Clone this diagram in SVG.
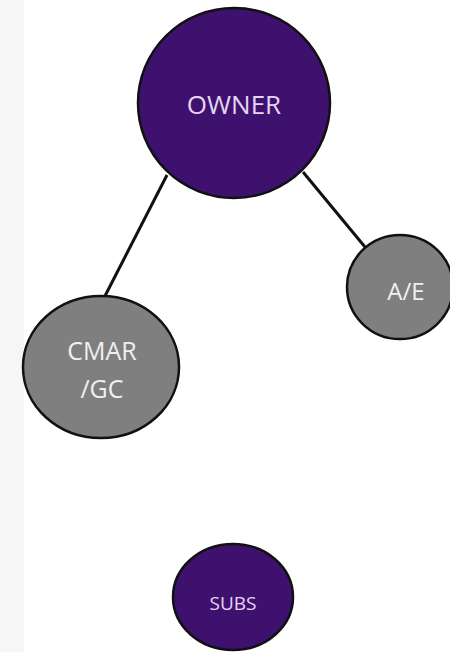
<svg xmlns="http://www.w3.org/2000/svg" width="450" height="652" viewBox="0 0 450 652">
<style>
.node{stroke:#111;stroke-width:2.5}
.purple{fill:#3f116f}
.gray{fill:#7f7f7f}
.lbl{font-family:"Open Sans","Liberation Sans",sans-serif;text-anchor:middle;dominant-baseline:central}
.lp{fill:#e4d6f2}
.lg{fill:#f0f0f0}
.edge{stroke:#111;stroke-width:3;fill:none}
</style>
<rect x="0" y="0" width="450" height="652" fill="#ffffff"/>
<rect x="0" y="0" width="24" height="652" fill="#f6f6f6"/>
<g id="connectors">
<line class="edge" x1="167" y1="175" x2="105" y2="296"/>
<line class="edge" x1="303" y1="172" x2="365" y2="247"/>
</g>
<g id="owner">
<ellipse class="node purple" cx="234" cy="103" rx="96" ry="95"/>
<text class="lbl lp" x="234" y="104" font-size="26">OWNER</text>
</g>
<g id="ae">
<ellipse class="node gray" cx="400" cy="287" rx="53" ry="52"/>
<text class="lbl lg" x="406" y="290" font-size="24">A/E</text>
</g>
<g id="cmar">
<ellipse class="node gray" cx="101" cy="367" rx="78" ry="71"/>
<text class="lbl lg" x="102" y="350" font-size="25">CMAR</text>
<text class="lbl lg" x="102" y="388" font-size="25">/GC</text>
</g>
<g id="subs">
<ellipse class="node purple" cx="233" cy="597" rx="60" ry="53"/>
<text class="lbl lp" x="233" y="603" font-size="19">SUBS</text>
</g>
</svg>
